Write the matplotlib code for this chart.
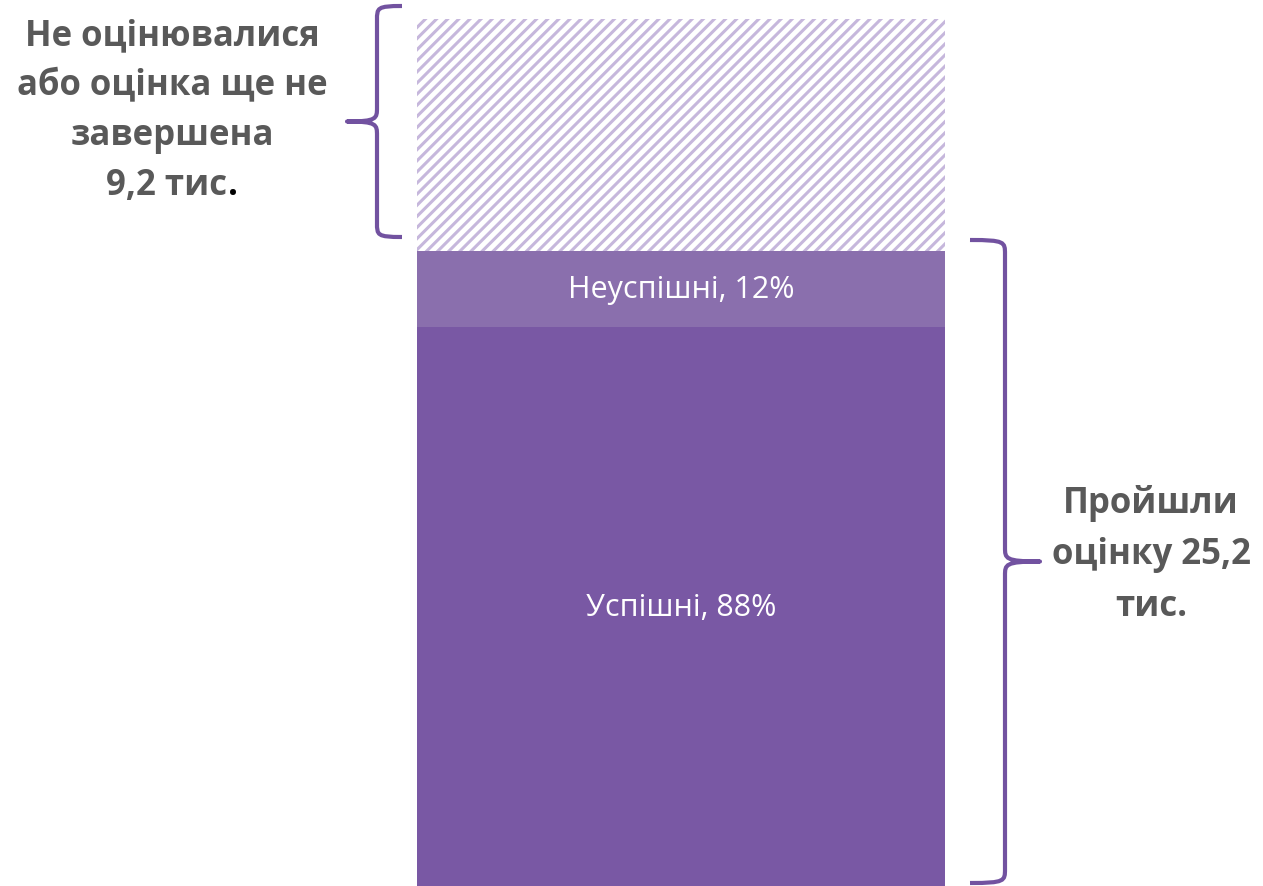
import matplotlib

matplotlib.use("Agg")
import matplotlib.pyplot as plt
from matplotlib.path import Path
from matplotlib.patches import PathPatch

# данные, тис.
TOTAL_ASSESSED = 25.2
NOT_ASSESSED = 9.2
SHARE_LABELS = ["Успішні, 88%", "Неуспішні, 12%"]
SHARES = [0.88, 0.12]
LEFT_LINES = ["Не оцінювалися", "або оцінка ще не", "завершена"]
LEFT_LAST = "9,2 тис"
RIGHT_LINES = ["Пройшли", "оцінку 25,2", "тис."]

PURPLE = "#7958A4"
PURPLE_LIGHT = "#8A6FAD"
HATCH = "#C6B7DC"
BRACE = "#7252A0"
GREY = "#595959"

W, H = 1263, 887
plt.rcParams["font.family"] = ["Open Sans", "DejaVu Sans"]
plt.rcParams["hatch.linewidth"] = 2.2

fig = plt.figure(figsize=(W / 100, H / 100), dpi=100)
ax = fig.add_axes([0, 0, 1, 1])
# пиксельная сетка: 0 внизу, 887 вверху
px_per_unit = (887 - 20) / (TOTAL_ASSESSED + NOT_ASSESSED)
ax.set_xlim(0, W)
ax.set_ylim(0, H / px_per_unit)
ax.axis("off")


def to_y(py):
    return (H - py) / px_per_unit


bar_x, bar_w = 417, 528
vals = [TOTAL_ASSESSED * s for s in SHARES]
bottom = 0.0
for v, c, lab in zip(vals, [PURPLE, PURPLE_LIGHT], SHARE_LABELS):
    ax.bar(bar_x, v, width=bar_w, bottom=bottom, align="edge", color=c, lw=0)
    ax.text(bar_x + bar_w / 2, bottom + v / 2, lab, ha="center", va="center",
            color="white", fontsize=22)
    bottom += v
ax.bar(bar_x, NOT_ASSESSED, width=bar_w, bottom=bottom, align="edge",
       facecolor="white", edgecolor=HATCH, hatch="///", lw=0)


def brace(x_end, x_spine, x_tip, y_top, y_bot):
    """Фигурная скобка в пикселях картинки."""
    ym = (y_top + y_bot) / 2
    d = 14
    pts = [
        (x_end, y_top),
        (x_spine, y_top), (x_spine, y_top + 2), (x_spine, y_top + d),
        (x_spine, ym - d),
        (x_spine, ym - 3), (x_spine, ym), (x_tip, ym),
        (x_spine, ym), (x_spine, ym + 3), (x_spine, ym + d),
        (x_spine, y_bot - d),
        (x_spine, y_bot - 2), (x_spine, y_bot), (x_end, y_bot),
    ]
    codes = [Path.MOVETO, Path.CURVE4, Path.CURVE4, Path.CURVE4, Path.LINETO,
             Path.CURVE4, Path.CURVE4, Path.CURVE4,
             Path.CURVE4, Path.CURVE4, Path.CURVE4, Path.LINETO,
             Path.CURVE4, Path.CURVE4, Path.CURVE4]
    verts = [(x, to_y(y)) for x, y in pts]
    ax.add_patch(PathPatch(Path(verts, codes), fill=False, edgecolor=BRACE,
                           lw=3, capstyle="butt", joinstyle="round"))


brace(402, 377, 347, 7, 238)
brace(970, 1005, 1040, 241, 884)

txt = dict(color=GREY, fontsize=25, fontweight="bold")
for i, line in enumerate(LEFT_LINES):
    ax.text(172, to_y(36 + 50 * i), line, ha="center", va="center", **txt)
# последняя строка: точка в оригинале чёрная
ghost = ax.text(172, to_y(186), LEFT_LAST + ".", ha="center", va="center",
                alpha=0, **txt)
ax.annotate(LEFT_LAST, xy=(0, 0), xycoords=ghost, ha="left", va="bottom", **txt)
ax.annotate(".", xy=(1, 0), xycoords=ghost, ha="right", va="bottom",
            color="black", fontsize=25, fontweight="bold")

for i, line in enumerate(RIGHT_LINES):
    ax.text(1151, to_y(503 + 52 * i), line, ha="center", va="center", **txt)

fig.savefig("out.png", dpi=100)
